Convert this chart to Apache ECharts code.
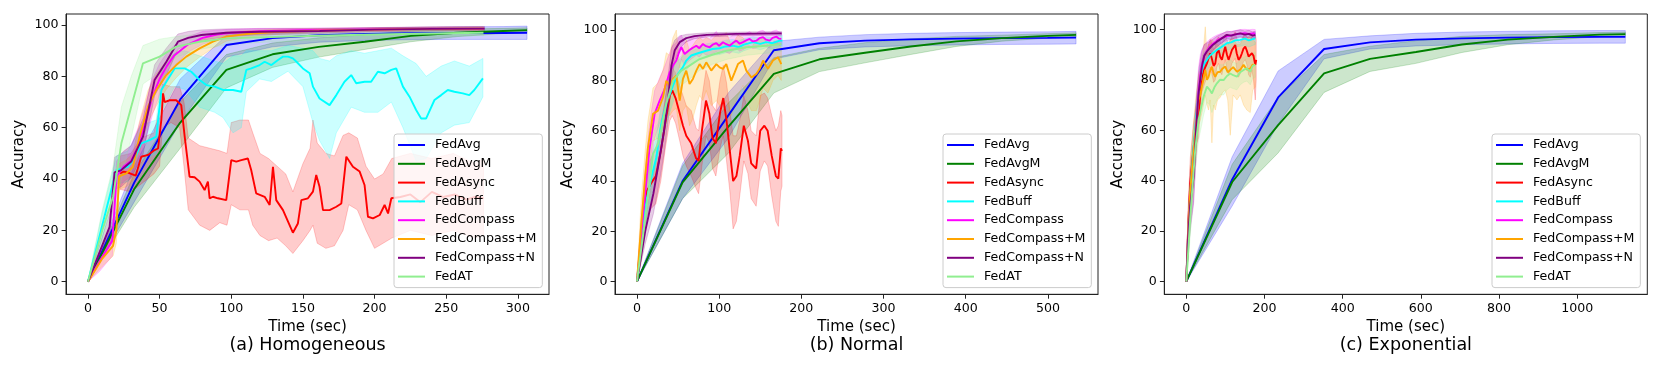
<!DOCTYPE html>
<html><head><meta charset="utf-8">
<script src="https://cdn.jsdelivr.net/npm/echarts@6/dist/echarts.min.js"></script>
<style>html,body{margin:0;padding:0;background:#fff}#c{width:1661px;height:369px}</style>
</head><body><div id="c"></div>
<script>
// ---------- labels ----------
const names = ['FedAvg','FedAvgM','FedAsync','FedBuff','FedCompass','FedCompass+M','FedCompass+N','FedAT'];
const colors = ['#0000ff','#008000','#ff0000','#00ffff','#ff00ff','#ffa500','#800080','#90ee90'];
const captions = ['(a) Homogeneous','(b) Normal','(c) Exponential'];
const xTicksH = [0,50,100,150,200,250,300];
const xTicksN = [0,100,200,300,400,500];
const xTicksE = [0,200,400,600,800,1000];
const yTicks = [0,20,40,60,80,100];

// ---------- (a) Homogeneous ----------
const tH_sync = [0,32.2,64.4,96.6,128.8,161,193.2,225.4,257.6,289.8,306.4];
const yH_avg  = [0,38.5,71,92.2,94.9,96,96.5,96.8,96.9,96.9,97.0];
const loH_avg = [0,31,62,87.5,91.5,93.3,94,94.3,94.4,94.4,94.4];
const hiH_avg = [0,45,79,96,97.6,98.4,98.8,99.1,99.3,99.4,99.6];
const yH_avgm  = [0,36,62,82.5,88.6,91.5,93.5,95.8,97,97.7,98.0];
const loH_avgm = [0,29,52,75.5,83.5,87.5,90.5,93.5,95.5,96.7,97.1];
const hiH_avgm = [0,42,70,88.5,93,95,96.2,97.8,98.4,98.7,98.9];

const tH_async = [22.4,25,28,30.2,33.3,37.2,41.9,46.5,48.9,51.2,52.4,53.5,57,61.6,65.1,67.5,70.9,74.4,77.9,81.4,83.7,84.9,87.2,90.7,96.5,100,103.5,107,111.6,113.9,117.4,123.3,126.8,129.1,131.4,136.1,143,146.5,148.9,153.5,157,159.3,161.6,164,168.6,173.3,176.8,180.3,184.9,189.6,193,195.4,198.9,203.6,207,209.4,211.7,218,225,232,240,248,256,264,270,276];
const yH_async = [42.2,42.9,42.5,42,41.3,48.7,49.4,51.3,51.9,63,73.4,70,70.7,70.7,68.8,56.5,40.9,40.7,39,35.7,39,32.5,33.1,32.5,31.8,47.4,46.8,47.4,48,43.5,34.4,33.1,29.9,44.8,31.8,27.9,19.1,22.7,31.8,32.5,35.1,41.6,37,27.9,27.9,29.2,30.5,48.7,44.8,42.9,37.7,25.3,24.7,26,29.9,26.6,32.5,33,34,31,35,33,34,32,33,32.5];
const bH_async  = [22.4,30,37,46,50,52,58,64,67,70,78,85,92,97,100,106,112,115,120,126,132,138,143,150,155,157,160,166,172,178,182,188,194,200,206,212,225,240,255,270,276];
const loH_async = [36,35,38,42,45,60,62,60,45,28,22,20,23,22,30,28,28,22,18,16,17,14,11,16,20,22,15,13,14,20,30,28,20,13,15,17,20,18,20,17,18];
const hiH_async = [49,50,56,58,68,77,76,76,70,56,53,52,51,50,62,63,63,58,50,48,45,42,35,46,52,63,54,50,49,57,58,56,45,40,42,48,50,48,50,46,48];

const tH_buff = [0,10,19.8,27.9,32.6,37.2,43,47.7,51.2,54.7,60.5,67.5,72.1,77.9,82.6,88.4,94.2,101.2,107,110.5,114,119.8,123.3,128,132.6,136.1,139.6,143,145.5,150,154.7,157,161.6,168.6,173.3,179,183.7,187.2,193,197.6,202.3,207,211.7,215.1,219.8,224.4,229,232.5,236,241.8,246.5,251.1,255.7,261.6,266.1,269.6,275.6];
const yH_buff = [0,22,43.5,44.8,48,53.9,55.2,56.5,74.7,77.9,83.1,83.1,81.8,78.6,76.6,76,74.7,74.7,74,82.5,83.1,84.4,85.7,84.4,86.4,87.7,87.7,87,85.7,83.1,81.2,76,71.4,68.8,72.7,77.9,80.5,77.3,77.9,77.9,81.8,81.2,82.5,83.1,76,72.1,66.9,63.6,63.6,70.8,72.7,74.7,74,73.4,72.7,74.7,79.2];
const bH_buff  = [0,10,19.8,27.9,37.2,47.7,51.2,60.5,67.5,77.9,88.4,94.2,101.2,107,110.5,119.8,128,139.6,150,157,161.6,168.6,173.3,183.7,193,202.3,211.7,219.8,229,236,246.5,255.7,266.1,275.6];
const loH_buff = [0,17,38,39,47,50,66,76,75,68,66,64,58,60,74,79,78,82,76,62,55,48,58,68,66,66,70,60,47,48,58,61,62,72];
const hiH_buff = [0,27,49,51,61,63,82,89,90,88,86,85,88,88,90,90,90,92,91,90,87,86,88,90,89,90,91,88,85,80,84,86,84,87];

const tH_comp  = [0,8,17,20,25,30,35,40,45,50,55,60,70,80,90,100,120,150,200,250,276];
const yH_comp  = [0,8,16,41,45,47,53,62,72,79,84,88,92.5,95,96.3,97,97.6,98,98.3,98.5,98.5];
const loH_comp = [0,4,10,35,39,41,46,55,65,73,79,84,89.5,92.5,94.5,95.6,96.5,97.2,97.6,97.8,97.8];
const hiH_comp = [0,12,22,47,51,53,60,69,79,85,89,92,95.5,97.5,98,98.4,98.7,98.8,99,99.2,99.2];

const tH_compm  = [0,10,17.5,19.8,21.7,26.8,31.4,36,41.9,47.7,54.7,61.6,68.6,77.9,87.2,96.5,110.5,130,160,200,240,276];
const yH_compm  = [0,9,14,20,41,42.2,44.8,56.5,68.2,74.7,80.5,84.4,87.7,90.9,93.5,95.5,96.5,97.3,97.8,98.2,98.5,98.6];
const loH_compm = [0,6,10,15,36,37,39.5,50.5,62,68.5,75,79.5,83.5,87.5,91,93.7,95.2,96.3,97,97.5,97.8,97.9];
const hiH_compm = [0,12,18,25,46,47.5,50,62.5,74.5,81,86,89.3,92,94.3,96,97.3,97.8,98.3,98.6,98.9,99.2,99.3];

const tH_compn  = [0,15.1,18.6,23.3,30.2,38.4,46.5,54.7,62.8,70,79.1,96.5,119.8,161.6,200,240,276.8];
const yH_compn  = [0,21.4,42.6,43.5,46.8,56.5,78.6,85.7,93.5,95,96.1,97,97.4,97.7,98.2,98.5,98.6];
const loH_compn = [0,16,36,37,40.5,49.5,72.5,80.5,90.5,92.5,94,95.5,96.2,96.7,97.4,97.7,97.8];
const hiH_compn = [0,26.5,48.5,50,53,63.5,84.5,91,96.5,97.5,98.1,98.5,98.6,98.7,99,99.3,99.4];

const tH_at  = [0,10,17.5,23.3,30.2,38.4,50,61.6,77.9,96.5,119.8,160,200,240,276];
const yH_at  = [0,20,33.1,53.9,68.2,85.1,87.7,91.6,93.5,94.8,95.2,95.8,96.3,96.7,97];
const loH_at = [0,12,21,40,56,77,81.5,87.5,90.5,92.3,93.2,94.2,94.9,95.5,95.9];
const hiH_at = [0,28,45,68,80,92,94.5,95.5,96.5,97.2,97.2,97.4,97.7,97.9,98.1];

// ---------- (b) Normal ----------
const tN_sync = [0,55.5,111,166.5,222,277.5,333,388.5,444,499.5,534.2];
const yN_avg  = [0,40,66,92,94.8,95.8,96.3,96.6,96.8,96.9,97.0];
const loN_avg = [0,33,57,88.5,92.2,93.3,93.8,94.1,94.3,94.4,94.5];
const hiN_avg = [0,47,75,95.5,97.2,98.2,98.7,99,99.2,99.3,99.5];
const yN_avgm  = [0,39.5,61.5,82.6,88.4,91,93.5,95.5,96.8,97.7,98.1];
const loN_avgm = [0,33,51,75,83.5,87,90.3,93.5,95.6,96.8,97.3];
const hiN_avgm = [0,46,71,89,92.8,95,96.5,97.5,98,98.6,98.9];

const tN_async  = [0,5,8,12,17,23,29,35,40,43,47,52,56,60,66,72,75,79,84,88,92,96,101,105,109,113,117,121,125,130,135,139,145,150,155,159,164,169,172,175,176.5];
const yN_async  = [0,15,25,36,39,42,52,64,74,76,73,67,62,58,55,49,48,60,72,67,57,55,67,73,64,52,40,42,50,62,56,47,45,60,62,60,50,42,41,53,52];
const loN_async = [0,8,16,26,29,31,40,54,64,66,63,56,50,46,42,37,35,46,58,55,45,42,53,58,48,36,21,24,34,48,43,33,30,44,48,46,34,24,22,36,38];
const hiN_async = [0,22,34,46,49,53,63,74,83,85,83,78,74,70,68,61,60,73,84,80,70,68,80,86,79,68,58,58,64,74,68,60,58,74,75,73,66,60,62,68,66];

const tN_buff  = [0,6,12,18,23.6,29.6,35.7,43.8,49.9,55.8,60,66.1,74.2,84.3,92,100.6,108,116.8,124,130,141.1,150,157.3,165,173.6,176.8];
const yN_buff  = [0,20,33,42,49.4,62.7,70.6,77.9,82.6,85.2,87.9,89.9,90.8,91.8,92.5,92.8,93.5,93.8,93.2,94.2,95.2,94.5,95.2,94.8,95.8,95.8];
const loN_buff = [0,15,26,34,41,54,63,71,77,81,84,86.5,88,89,90,90.3,91,91.3,90.8,91.8,93,92.2,93,92.6,93.6,93.6];
const hiN_buff = [0,25,40,50,57,71,78,85,88,89.5,91.5,93,93.6,94.5,95,95.3,96,96.3,95.6,96.6,97.4,96.8,97.4,97,98,98];

const tN_comp  = [0,5,10,15,21.5,27.6,33,39.8,44,47.9,51,54,58,64,68,72.2,76,80.3,84,88.4,92,96.6,100,104.7,108,112.8,117,120.9,125,129,133,137.1,141,145.3,149,153.4,157,161.5,165,169.6,173,175.6];
const yN_comp  = [0,18,35,52,66.7,72,76,83.2,86,87.9,91,93.2,90.5,92.1,93,93.8,92.8,94.5,93.6,93.2,94.2,94.8,93.8,95.2,94.5,93.8,95,95.8,94.6,95.2,95.9,96.5,95.5,95.8,96.8,97.2,96.2,95.8,96.9,97.4,96.6,96.5];
const loN_comp = [0,12,26,42,57,63,67,75,78,81,85,88.5,86,88,89,90,89.3,91,90.1,89.9,90.8,91.4,90.5,92,91.3,90.6,92,92.8,91.6,92.2,93,93.6,92.6,93,94,94.5,93.5,93,94.2,94.8,94,94];
const hiN_comp = [0,24,44,62,76,81,85,91,94,95,97,98,95,96.3,97,97.6,96.5,98,97.3,96.6,98,99.5,97.3,98.5,97.8,97,98.2,98.8,97.6,98.3,98.8,99.4,98.5,98.7,99.6,99.9,98.9,98.6,99.6,100,99.2,99];

const tN_compm  = [0,5,10,13.4,19.5,25.6,31.7,35.7,39.8,43.8,47.9,52,56,60,64,68.1,72.2,76.2,80.3,84.3,90.4,96.6,100.6,104.7,108.7,114.8,118.9,122.9,129,133.1,139.2,145.3,149.3,153.4,159.4,165.5,171.6,175.6];
const yN_compm  = [0,22,42,53.4,66.7,68,73.3,79.9,77.9,80.6,81.9,72,80.6,83.9,78.6,80.6,83.9,86.5,84.6,87.2,83.9,86.5,85.2,84.6,86.5,79.9,83.2,86.5,87.9,83.9,81.2,82.6,84.6,87.9,84.6,87.9,89.2,86.5];
const loN_compm = [0,12,30,42,56,57,62,68,66,68,69,60,68,70,62,65,70,74,72,76,70,72,70,68,72,66,70,74,78,72,68,68,72,77,75,80,82,80];
const hiN_compm = [0,32,52,64,77,79,84,91,90,97,100,85,92,96,92,94,96,97,96,97,96,98,98,98,99,94,96,98,97,95,93,96,96,97,94,95,95,93];

const tN_compn  = [0,10,20,28,33,38,42,46,52,60,70,85,120,176];
const yN_compn  = [0,20,35,50,60,73,86,92,95.2,96.8,97.6,98.1,98.5,98.7];
const loN_compn = [0,15,27,41,51,64,79,88,92.7,95.3,96.6,97.3,97.8,98];
const hiN_compn = [0,25,43,59,69,82,93,96,97.7,98.3,98.6,98.9,99.2,99.4];

const tN_at  = [0,8,15,19.5,25.6,29.6,35.7,43.8,54,64,76.2,92.5,108.7,133.1,157.3,175.6];
const yN_at  = [0,20,38,50.8,54.7,60.7,70.6,79.9,83.9,85.9,88.5,90.3,91.8,93.2,93.8,94.5];
const loN_at = [0,14,30,42,46,52,62,73,78,80.5,84,86.5,88.3,90,90.8,91.5];
const hiN_at = [0,26,46,59,63,69,79,87,89.8,91.3,93,94.1,95.3,96.4,96.8,97.5];

// ---------- (c) Exponential ----------
const tE_sync = [0,117.5,235,352.5,470,587.5,705,822.5,940,1057.5,1123];
const yE_avg  = [0,40.5,73,92.2,94.8,95.9,96.4,96.7,96.9,97,97];
const loE_avg = [0,30,62.5,88.3,92.2,93.4,93.9,94.2,94.4,94.5,94.5];
const hiE_avg = [0,49.5,83.5,96,97.4,98.4,98.9,99.2,99.4,99.5,99.5];
const yE_avgm  = [0,39.5,62,82.5,88.3,91,94,95.9,97,97.9,98.1];
const loE_avgm = [0,32.5,51,75,83.3,86.5,90.8,93.9,95.8,97.1,97.3];
const hiE_avgm = [0,46.5,73,90,93.3,95.5,97.2,97.9,98.2,98.7,98.9];

const tE_async  = [0,5,10.2,18,25,31.5,36,40,46,52.9,57,61.4,66,70,74.2,78,82.7,87,91.2,95,99.7,104,108.2,112,116.8,121,125.3,129,133.8,138,142.4,146,150.9,155,159.4,163.7,167.9,172,176.5,179];
const yE_async  = [0,22,39,52,62,65.4,75,81.2,84,86.5,88.5,90.5,88,85.5,86.5,90.5,91.8,89,87.9,90.5,93.1,90,87.9,89.5,91.8,92.8,93.8,90.5,87.9,88.8,90.5,92.2,93.1,91.5,89.2,88.5,90.5,89.5,85.9,87.9];
const loE_async = [0,14,29,42,54,57,68,75,78,81,83,85,82,79,80,85,86.5,83,82,85,88,84,82,83.5,86.5,87.5,88.5,84.5,81,82.5,85,87,88,86,82,81,84,80,72,80];
const hiE_async = [0,30,49,62,70,74,82,87,90,92,94,96,94,92,93,96,97,95,94,96,98,96,94,95.5,97,98,99,96.5,95,95,96,97.4,98.2,97,96.4,96,97,99,98,96];

const tE_buff  = [0,5,10.2,18,27.3,34,40,46,52.9,60,70,78.4,90,104,115,125,138.1,150,160,170,176.5];
const yE_buff  = [0,20,35,52,68,78,83.9,86.5,87.9,89.5,90.8,91.8,93,94.5,94.8,95.6,95.8,96.3,95.6,96.1,96.4];
const loE_buff = [0,14,27,43,60,71,78,82,83.5,85.5,87.5,88.5,90,91.8,92.2,93,93.3,93.8,93,93.6,94];
const hiE_buff = [0,26,43,60,75,84,89,91,92,93.5,94,95,96,97,97.4,98,98.2,98.6,98.1,98.5,98.8];

const tE_comp  = [0,5,10,18.8,25,31.5,36,40,46,52.9,60,70,78.4,90,104,115,125,138.1,150,160,170,176.5];
const yE_comp  = [0,20,33,43,60,75.5,82,86,89.5,91.5,93,94.5,95.5,96.5,97.2,97.6,97.9,98.3,98.5,98.2,98.4,98.3];
const loE_comp = [0,12,22,32,49,66,74,80,85,88,90,92,93.3,94.6,95.5,96,96.3,96.7,97,96.6,96.8,96.7];
const hiE_comp = [0,28,44,54,71,85,90,92,94,95,96,97,97.7,98.4,98.9,99.2,99.5,99.9,100,99.8,100,99.9];

const tE_compm  = [0,5,10,18,25,31.5,36,40,44,48.6,53,57.1,61,65.6,70,74.2,80,86.9,93,99.7,106,112.5,120,129.6,138,146.6,155,163.7,170,176.5];
const yE_compm  = [0,20,35,50,62,72,74,77.3,80,83.9,80,81.2,83.5,85.2,82.5,81.2,83,83.2,84.5,85.2,83,83.9,85,83.2,84,85.9,84,84.5,86,85.9];
const loE_compm = [0,12,25,38,50,62,64,67,70,74,70,68,72,55,70,68,72,73,75,76,72,58,74,72,74,70,68,67,76,77];
const hiE_compm = [0,28,45,62,74,82,84,88,92,101,90,94,94,96,95,94,94,93,94,94,94,96,96,94,94,97,96,98,96,95];

const tE_compn  = [0,5,10,18.8,25,31.5,36,40,46,52.9,60,68,78.4,90,104,115,125,138.1,150,160,170,176.5];
const yE_compn  = [0,18,30,41.6,60,74.6,80.5,85.2,89.5,91.2,92.5,93.8,95.1,96.3,97.8,97.5,98,98.4,97.9,98.2,97.5,97.8];
const loE_compn = [0,11,20,31,50,66,73,79,85,87.8,89.7,91.5,93,94.5,96.3,96,96.6,97,96.5,96.8,96,96.4];
const hiE_compn = [0,25,40,52,70,83,88,91.4,94,94.6,95.3,96.1,97.2,98.1,99.3,99,99.4,99.8,99.3,99.6,99,99.2];

const tE_at  = [0,5,10,16,23,31.5,38,44.3,52.9,60,65.6,72,78.4,86,95.5,104,112.5,120,129.6,138,146.6,155,163.7,170,176.5];
const yE_at  = [0,12,25,38,52.2,64.1,69,73.3,77.3,76,74.6,77,78.6,80,79.9,81.5,82.5,81.8,81.2,83,83.9,84.5,83.2,85.5,86];
const loE_at = [0,7,18,30,44,56,61,66,71,70,67,70,72,74,74,76,77,76.5,76,78,79,79.5,78,80.5,81];
const hiE_at = [0,17,32,46,60,72,77,80.5,83.5,82,82,84,85,86,86,87,88,87,86.4,88,88.8,89.5,88.4,90.5,91];

// ---------- assembly ----------
const panels = [
  { x:[-15.32,321.72], y:[-4.9,104.3], ticks:xTicksH, left:66, legendLeft:394, s:[
    [tH_sync,yH_avg,tH_sync,loH_avg,hiH_avg],
    [tH_sync,yH_avgm,tH_sync,loH_avgm,hiH_avgm],
    [tH_async,yH_async,bH_async,loH_async,hiH_async],
    [tH_buff,yH_buff,bH_buff,loH_buff,hiH_buff],
    [tH_comp,yH_comp,tH_comp,loH_comp,hiH_comp],
    [tH_compm,yH_compm,tH_compm,loH_compm,hiH_compm],
    [tH_compn,yH_compn,tH_compn,loH_compn,hiH_compn],
    [tH_at,yH_at,tH_at,loH_at,hiH_at]]},
  { x:[-26.7,560.9], y:[-5.0,106.4], ticks:xTicksN, left:615, legendLeft:943, s:[
    [tN_sync,yN_avg,tN_sync,loN_avg,hiN_avg],
    [tN_sync,yN_avgm,tN_sync,loN_avgm,hiN_avgm],
    [tN_async,yN_async,tN_async,loN_async,hiN_async],
    [tN_buff,yN_buff,tN_buff,loN_buff,hiN_buff],
    [tN_comp,yN_comp,tN_comp,loN_comp,hiN_comp],
    [tN_compm,yN_compm,tN_compm,loN_compm,hiN_compm],
    [tN_compn,yN_compn,tN_compn,loN_compn,hiN_compn],
    [tN_at,yN_at,tN_at,loN_at,hiN_at]]},
  { x:[-56.15,1179.15], y:[-5.0,106.06], ticks:xTicksE, left:1164.3, legendLeft:1492, s:[
    [tE_sync,yE_avg,tE_sync,loE_avg,hiE_avg],
    [tE_sync,yE_avgm,tE_sync,loE_avgm,hiE_avgm],
    [tE_async,yE_async,tE_async,loE_async,hiE_async],
    [tE_buff,yE_buff,tE_buff,loE_buff,hiE_buff],
    [tE_comp,yE_comp,tE_comp,loE_comp,hiE_comp],
    [tE_compm,yE_compm,tE_compm,loE_compm,hiE_compm],
    [tE_compn,yE_compn,tE_compn,loE_compn,hiE_compn],
    [tE_at,yE_at,tE_at,loE_at,hiE_at]]}
];

function rgba(hex, a){
  const r=parseInt(hex.slice(1,3),16), g=parseInt(hex.slice(3,5),16), b=parseInt(hex.slice(5,7),16);
  return `rgba(${r},${g},${b},${a})`;
}
const FONT = 'DejaVu Sans';
const GW = 483, GH = 280.3, GT = 14;
const plain = v => String(v);

const grid=[], xAxis=[], yAxis=[], series=[], legend=[], title=[];
panels.forEach((p,pi)=>{
  grid.push({left:p.left, top:GT, width:GW, height:GH, show:true, borderColor:'#222', borderWidth:1, backgroundColor:'transparent'});
  xAxis.push({gridIndex:pi, type:'value', min:p.x[0], max:p.x[1],
    name:'Time (sec)', nameLocation:'middle', nameGap:24,
    nameTextStyle:{fontSize:15, color:'#000', fontFamily:FONT},
    axisLine:{show:true, onZero:false, lineStyle:{color:'#222', width:1}},
    axisTick:{show:true, inside:false, length:4.4, customValues:p.ticks, lineStyle:{color:'#222', width:1}},
    axisLabel:{customValues:p.ticks, formatter:plain, margin:7.5, fontSize:12.6, color:'#000', fontFamily:FONT},
    splitLine:{show:false}});
  yAxis.push({gridIndex:pi, type:'value', min:p.y[0], max:p.y[1],
    name:'Accuracy', nameLocation:'middle', nameGap:39,
    nameTextStyle:{fontSize:15, color:'#000', fontFamily:FONT},
    axisLine:{show:true, onZero:false, lineStyle:{color:'#222', width:1}},
    axisTick:{show:true, inside:false, length:4.4, customValues:yTicks, lineStyle:{color:'#222', width:1}},
    axisLabel:{customValues:yTicks, formatter:plain, margin:7.5, fontSize:12.6, color:'#000', fontFamily:FONT},
    splitLine:{show:false}});
  p.s.forEach((s,si)=>{
    const [t,m,bt,lo,hi]=s; const col=colors[si];
    series.push({type:'custom', name:names[si]+' band', xAxisIndex:pi, yAxisIndex:pi,
      silent:true, animation:false, clip:true,
      data:[[bt[0], lo[0]]],
      renderItem:(params, api)=>{
        const up=[], dn=[];
        for(let k=0;k<bt.length;k++){ up.push(api.coord([bt[k],hi[k]])); dn.push(api.coord([bt[k],lo[k]])); }
        return {type:'polygon', shape:{points:up.concat(dn.reverse())},
          style:{fill:rgba(col,0.2), stroke:rgba(col,0.2), lineWidth:1}};
      }});
    series.push({type:'line', name:names[si], xAxisIndex:pi, yAxisIndex:pi,
      data:t.map((x,k)=>[x,m[k]]), showSymbol:false, symbol:'none', color:col,
      lineStyle:{width:1.9, color:col}, silent:true, animation:false, z:3});
  });
  legend.push({data:names, orient:'vertical', left:p.legendLeft, top:134, icon:'rect',
    itemWidth:27, itemHeight:2, itemGap:4.8, padding:[4,6,4,4], selectedMode:false,
    backgroundColor:'rgba(255,255,255,0.8)', borderColor:'#cccccc', borderWidth:1, borderRadius:3,
    textStyle:{fontSize:12.6, color:'#000', fontFamily:FONT, lineHeight:14, padding:[0,0,0,5]}});
  title.push({text:captions[pi], left:p.left+GW/2, top:336, textAlign:'center', padding:0,
    textStyle:{fontSize:17.5, fontWeight:'normal', color:'#000', fontFamily:FONT}});
});

const chart = echarts.init(document.getElementById('c'), null, {renderer:'canvas'});
chart.setOption({animation:false, backgroundColor:'#fff', textStyle:{fontFamily:FONT},
  grid, xAxis, yAxis, series, legend, title});
</script>
</body></html>
